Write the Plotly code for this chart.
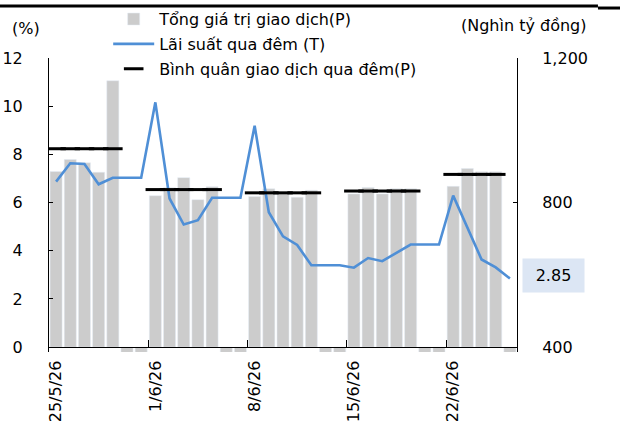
import pandas as pd
import plotly.graph_objects as go

# daily categories 25/5/26 .. 26/6/26
days = pd.date_range("2026-05-25", "2026-06-26", freq="D")
dates = [f"{d.day}/{d.month}/{d.year % 100}" for d in days]

# Tổng giá trị giao dịch (nghìn tỷ đồng), weekends = 0
volume = [886, 919, 910, 884, 1137, 0, 0,
          819, 841, 869, 808, 844, 0, 0,
          817, 838, 826, 815, 834, 0, 0,
          824, 842, 824, 838, 838, 0, 0,
          845, 894, 885, 885, 0]

# Lãi suất qua đêm (%)
rate = [6.87, 7.63, 7.60, 6.76, 7.03, 7.03, 7.03,
        10.16, 6.17, 5.09, 5.27, 6.20, 6.20, 6.20,
        9.19, 5.60, 4.60, 4.24, 3.40, 3.40, 3.40,
        3.30, 3.70, 3.57, 3.92, 4.26, 4.26, 4.26,
        6.29, 4.96, 3.64, 3.31, 2.85]

# Bình quân giao dịch qua đêm (weekly average, nghìn tỷ đồng)
avg = [949, 949, 949, 949, 949, None, None,
       836, 836, 836, 836, 836, None, None,
       827, 827, 827, 827, 827, None, None,
       832, 832, 832, 832, 832, None, None,
       878, 878, 878, 878, None]

Y2_BASE = 400
FONT = "DejaVu Sans"
lo = 0.2
vol_range = [Y2_BASE - lo * 800 / 12, 1200]

fig = go.Figure()

# bars on the primary (right) axis so the line is drawn over them
fig.add_trace(go.Bar(
    x=dates, y=[v - Y2_BASE for v in volume], base=Y2_BASE,
    name="Tổng giá trị giao dịch(P)", marker_color="#cccccc",
    yaxis="y", legendgroup="a",
))
fig.add_trace(go.Scatter(
    x=dates, y=rate, mode="lines", name="Lãi suất qua đêm (T)",
    line=dict(color="#4f8fd6", width=2.6), yaxis="y2", legendgroup="b",
))
fig.add_trace(go.Scatter(
    x=dates, y=avg, mode="markers", name="Bình quân giao dịch qua đêm(P)",
    marker=dict(symbol="line-ew", size=14, line=dict(color="black", width=3)),
    yaxis="y3", legendgroup="c",
))

# label for last rate value
fig.add_annotation(
    x=dates[-1], y=rate[-1], yref="y2", text=f"{rate[-1]:.2f}", showarrow=False,
    xanchor="left", xshift=12, yshift=3, width=59, height=31,
    bgcolor="#dce6f4", font=dict(size=16, color="black"),
)

fig.add_annotation(xref="paper", yref="paper", x=-0.049, y=1.099, text="(%)",
                   showarrow=False, xanchor="center", yanchor="middle")
fig.add_annotation(xref="paper", yref="paper", x=1.015, y=1.109, text="(Nghìn tỷ đồng)",
                   showarrow=False, xanchor="center", yanchor="middle")

# decorative rule on top of the page
fig.add_shape(type="line", xref="paper", yref="paper", x0=-0.11, x1=1.173,
              y0=1.177, y1=1.177, line=dict(color="black", width=3))
fig.add_shape(type="line", xref="paper", yref="paper", x0=1.173, x1=1.23,
              y0=1.17, y1=1.17, line=dict(color="black", width=3))

fig.update_layout(
    width=620, height=428,
    margin=dict(l=49, r=103, t=58, b=76, autoexpand=False),
    plot_bgcolor="white", paper_bgcolor="white",
    font=dict(family=FONT, size=16, color="black"),
    bargap=0.15,
    showlegend=True,
    legend=dict(xref="container", yref="container", x=0.1745, y=0.995,
                xanchor="left", yanchor="top", bgcolor="rgba(0,0,0,0)",
                font=dict(size=16), tracegroupgap=1, itemwidth=41),
    xaxis=dict(
        type="category", range=[-0.5, len(dates) - 0.5],
        tickmode="linear", tick0=0, dtick=7,
        tickson="boundaries", ticks="inside", ticklen=7, tickcolor="black",
        tickangle=-90, showline=True, linecolor="black", linewidth=1,
        showgrid=False, zeroline=False, ticklabelstandoff=6,
        anchor="free", position=lo / (12 + lo), automargin=False,
    ),
    yaxis=dict(
        side="right", range=vol_range, tickvals=[400, 800, 1200],
        tickformat=",", showgrid=False, showline=True, linecolor="black",
        linewidth=1, ticks="inside", ticklen=4, tickcolor="black",
        zeroline=False, ticklabelstandoff=21, automargin=False,
    ),
    yaxis2=dict(
        overlaying="y", side="left",
        range=[-lo, 12], tickvals=[0, 2, 4, 6, 8, 10, 12],
        showgrid=False, showline=True, linecolor="black", linewidth=1,
        ticks="inside", ticklen=4, tickcolor="black", zeroline=False,
        ticklabelstandoff=22, automargin=False,
    ),
    yaxis3=dict(overlaying="y", range=vol_range, visible=False),
)

fig.write_html("out.html", config={"displayModeBar": False},
               post_script="document.body.style.margin='0';")
